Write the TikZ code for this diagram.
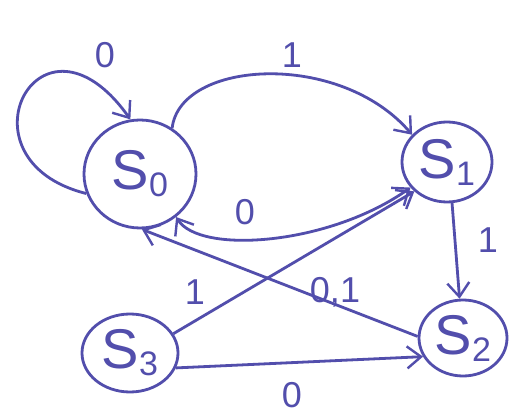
\documentclass[tikz,border=0pt]{standalone}
\usepackage{fontspec}
\setmainfont{Liberation Sans}
\usetikzlibrary{arrows.meta,shapes.geometric}
\definecolor{ink}{RGB}{82,78,172}
\newcommand{\stname}[1]{{\fontsize{56}{56}\selectfont S}\raisebox{-7pt}{\fontsize{34}{34}\selectfont #1}}
\begin{document}
\begin{tikzpicture}[x=1pt,y=-1pt, line width=2.8pt,
  state/.style={ellipse, draw=ink, text=ink, inner sep=0pt},
  arr/.style={draw=ink, -{Straight Barb[length=14pt,width=22pt,line width=2.4pt]}},
  darr/.style={draw=ink, {Straight Barb[length=14pt,width=22pt,line width=2.4pt]}-{Straight Barb[length=14pt,width=22pt,line width=2.4pt]}},
  lbl/.style={text=ink, font=\fontsize{36}{36}\selectfont, inner sep=0pt}]
\useasboundingbox[fill=white] (0,0) rectangle (516,419);
\node[state, minimum width=112pt, minimum height=108pt] (s0) at (140,174) {\stname{0}};
\node[state, minimum width=90pt, minimum height=80pt] (s1) at (447,162) {\stname{1}};
\node[state, minimum width=88pt, minimum height=76pt] (s2) at (463,338) {\stname{2}};
\node[state, minimum width=96pt, minimum height=78pt] (s3) at (130,353) {\stname{3}};
\draw[arr] (s0.200) .. controls (-48,160) and (40,-8) .. (s0.100);
\draw[arr] (s0.55) .. controls (180,60) and (340,50) .. (s1.142);
\draw[darr] (s0.-50) .. controls (200,255) and (330,245) .. (s1.215);
\draw[arr] (s1.-83) -- (s2.95);
\draw[arr] (s2.178) -- (s0.272);
\draw[arr] (s3.24) -- (s1.222);
\draw[arr] (s3.-18) -- (s2.205);
\node[lbl] (l00) at (105,55) {0};
\node[lbl] (l01) at (292,55) {1};
\node[lbl] (l0b) at (245,212) {0};
\node[lbl] (l12) at (488,240) {1};
\node[lbl] (l31) at (195,292) {1};
\node[lbl] (l20) at (335,292) {0,1};
\node[lbl] (l32) at (292,395) {0};
\end{tikzpicture}
\end{document}
